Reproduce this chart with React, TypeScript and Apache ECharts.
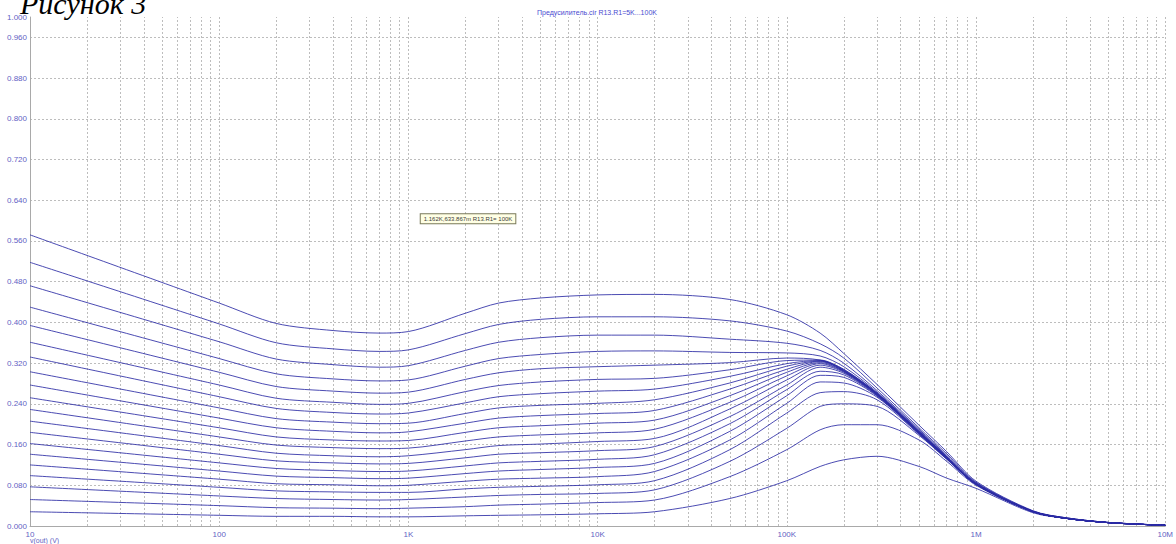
import React, { useEffect, useRef } from "react";
import * as echarts from "echarts";

// Frequencies (Hz) at which every curve is read
const freqs = [10, 100, 200, 400, 700, 1000, 2000, 3000, 5000, 10000, 20000, 50000, 100000, 150000, 200000, 300000, 500000, 700000, 1000000, 2000000, 3000000, 5000000, 10000000];

// v(out) in volts, top curve first
const s01 = [0.572, 0.438, 0.398, 0.384, 0.379, 0.382, 0.418, 0.438, 0.448, 0.454, 0.455, 0.445, 0.415, 0.379, 0.339, 0.278, 0.198, 0.146, 0.088, 0.030, 0.016, 0.007, 0.0015];
const s02 = [0.518, 0.397, 0.360, 0.348, 0.343, 0.346, 0.378, 0.396, 0.406, 0.411, 0.411, 0.403, 0.383, 0.358, 0.330, 0.271, 0.193, 0.142, 0.086, 0.029, 0.016, 0.007, 0.0015];
const s03 = [0.472, 0.362, 0.328, 0.317, 0.312, 0.315, 0.345, 0.361, 0.370, 0.375, 0.375, 0.367, 0.359, 0.345, 0.320, 0.266, 0.190, 0.139, 0.085, 0.029, 0.016, 0.007, 0.0014];
const s04 = [0.430, 0.329, 0.299, 0.289, 0.285, 0.287, 0.314, 0.329, 0.337, 0.343, 0.344, 0.341, 0.340, 0.334, 0.313, 0.263, 0.188, 0.137, 0.084, 0.029, 0.015, 0.007, 0.0014];
const s05 = [0.394, 0.302, 0.274, 0.265, 0.261, 0.263, 0.288, 0.301, 0.309, 0.313, 0.316, 0.321, 0.330, 0.326, 0.308, 0.261, 0.186, 0.136, 0.083, 0.028, 0.015, 0.0066, 0.0013];
const s06 = [0.361, 0.277, 0.251, 0.243, 0.239, 0.241, 0.264, 0.276, 0.283, 0.288, 0.290, 0.307, 0.325, 0.326, 0.307, 0.261, 0.186, 0.136, 0.083, 0.028, 0.015, 0.0066, 0.0013];
const s07 = [0.332, 0.254, 0.231, 0.223, 0.220, 0.222, 0.242, 0.254, 0.260, 0.265, 0.269, 0.294, 0.319, 0.325, 0.306, 0.260, 0.185, 0.135, 0.083, 0.028, 0.015, 0.0066, 0.0013];
const s08 = [0.303, 0.232, 0.211, 0.204, 0.201, 0.202, 0.221, 0.232, 0.237, 0.241, 0.248, 0.281, 0.314, 0.324, 0.305, 0.260, 0.185, 0.135, 0.083, 0.028, 0.015, 0.0066, 0.0013];
const s09 = [0.277, 0.212, 0.193, 0.186, 0.183, 0.185, 0.202, 0.212, 0.217, 0.221, 0.227, 0.269, 0.308, 0.323, 0.305, 0.259, 0.184, 0.135, 0.082, 0.028, 0.015, 0.0066, 0.0013];
const s10 = [0.252, 0.193, 0.175, 0.169, 0.167, 0.168, 0.184, 0.193, 0.197, 0.202, 0.208, 0.256, 0.302, 0.321, 0.304, 0.259, 0.184, 0.134, 0.082, 0.028, 0.015, 0.0066, 0.0013];
const s11 = [0.229, 0.175, 0.159, 0.154, 0.152, 0.153, 0.167, 0.175, 0.179, 0.183, 0.190, 0.243, 0.295, 0.319, 0.303, 0.258, 0.184, 0.134, 0.082, 0.028, 0.015, 0.0066, 0.0013];
const s12 = [0.206, 0.158, 0.143, 0.138, 0.136, 0.138, 0.150, 0.158, 0.161, 0.166, 0.172, 0.230, 0.287, 0.316, 0.302, 0.258, 0.183, 0.134, 0.082, 0.028, 0.015, 0.0066, 0.0013];
const s13 = [0.184, 0.141, 0.128, 0.124, 0.122, 0.123, 0.134, 0.141, 0.144, 0.148, 0.156, 0.215, 0.277, 0.312, 0.300, 0.257, 0.183, 0.133, 0.082, 0.028, 0.015, 0.0066, 0.0013];
const s14 = [0.162, 0.124, 0.113, 0.109, 0.107, 0.108, 0.118, 0.124, 0.127, 0.131, 0.140, 0.201, 0.268, 0.304, 0.297, 0.256, 0.182, 0.133, 0.082, 0.028, 0.015, 0.0066, 0.0013];
const s15 = [0.141, 0.108, 0.098, 0.095, 0.093, 0.094, 0.103, 0.108, 0.111, 0.115, 0.123, 0.186, 0.256, 0.296, 0.292, 0.255, 0.182, 0.133, 0.082, 0.028, 0.015, 0.0066, 0.0013];
const s16 = [0.120, 0.092, 0.083, 0.081, 0.079, 0.080, 0.088, 0.092, 0.094, 0.097, 0.107, 0.169, 0.241, 0.283, 0.281, 0.253, 0.181, 0.132, 0.082, 0.028, 0.015, 0.0066, 0.0013];
const s17 = [0.099, 0.076, 0.069, 0.067, 0.066, 0.066, 0.073, 0.076, 0.078, 0.081, 0.089, 0.150, 0.222, 0.262, 0.264, 0.248, 0.180, 0.132, 0.082, 0.028, 0.015, 0.0066, 0.0013];
const s18 = [0.077, 0.059, 0.054, 0.052, 0.051, 0.052, 0.057, 0.060, 0.062, 0.064, 0.071, 0.127, 0.192, 0.235, 0.240, 0.235, 0.178, 0.131, 0.082, 0.028, 0.015, 0.0066, 0.0013];
const s19 = [0.052, 0.040, 0.036, 0.035, 0.034, 0.035, 0.038, 0.041, 0.043, 0.046, 0.051, 0.097, 0.150, 0.189, 0.199, 0.199, 0.169, 0.127, 0.080, 0.028, 0.015, 0.0066, 0.0013];
const s20 = [0.028, 0.021, 0.019, 0.019, 0.018, 0.018, 0.020, 0.021, 0.022, 0.024, 0.028, 0.054, 0.089, 0.117, 0.130, 0.137, 0.117, 0.094, 0.074, 0.026, 0.015, 0.0065, 0.0013];

const curves = [s01, s02, s03, s04, s05, s06, s07, s08, s09, s10, s11, s12, s13, s14, s15, s16, s17, s18, s19, s20];
const seriesNames = ["100K", "95K", "90K", "85K", "80K", "75K", "70K", "65K", "60K", "55K", "50K", "45K", "40K", "35K", "30K", "25K", "20K", "15K", "10K", "5K"];

// Axis ticks
const xTickValues = [10, 100, 1000, 10000, 100000, 1000000, 10000000];
const xTickLabels = ["10", "100", "1K", "10K", "100K", "1M", "10M"];
const minorMultipliers = [2, 3, 4, 5, 6, 7, 8, 9];

const chartTitle = "Предусилитель.cir R13.R1=5K...100K";
const cursorText = "1.162K,633.867m R13.R1= 100K";
const cursorPoint = [1162, 0.633867];
const yAxisName = "v(out) (V)";
const figureCaption = "Рисунок 3";

export default function App() {
  const ref = useRef<HTMLDivElement>(null);

  useEffect(() => {
    const chart = echarts.init(ref.current as HTMLDivElement, null, { renderer: "svg" });

    const minorFreqs: number[] = [];
    xTickValues.slice(0, -1).forEach((d) => minorMultipliers.forEach((m) => minorFreqs.push(d * m)));

    const gridColor = "#bdbdbd";
    const labelColor = "#5f5fc4";
    const lineColor = "#2c2ca4";

    const series: any[] = curves.map((vals, i) => ({
      name: "R13.R1=" + seriesNames[i],
      type: "line",
      data: freqs.map((f, j) => [f, vals[j]]),
      showSymbol: false,
      smooth: 0.3,
      silent: true,
      z: 3,
      lineStyle: { width: 1, color: lineColor, opacity: 0.85 },
      markLine:
        i === 0
          ? {
              silent: true,
              symbol: "none",
              label: { show: false },
              lineStyle: { color: gridColor, type: [2, 2], width: 1 },
              data: minorFreqs.map((f) => ({ xAxis: f })),
              z: 1,
            }
          : undefined,
    }));

    chart.setOption({
      animation: false,
      backgroundColor: "#ffffff",
      grid: { left: 30, right: 6, top: 17, bottom: 18 },
      xAxis: {
        type: "log",
        logBase: 10,
        min: 10,
        max: 10000000,
        axisLine: { show: true, lineStyle: { color: "#a9a9a9", width: 1 } },
        axisTick: { show: false },
        splitLine: { show: true, lineStyle: { color: gridColor, type: [2, 2], width: 1 } },
        axisLabel: {
          color: labelColor,
          fontSize: 8,
          fontFamily: "Liberation Sans",
          margin: 4,
          formatter: (v: number) => {
            const k = xTickValues.findIndex((t) => Math.abs(v - t) / t < 1e-6);
            return k >= 0 ? xTickLabels[k] : "";
          },
        },
      },
      yAxis: {
        type: "value",
        min: 0,
        max: 1,
        interval: 0.08,
        axisLine: { show: true, lineStyle: { color: "#a9a9a9", width: 1 } },
        axisTick: { show: false },
        splitLine: { show: true, showMaxLine: false, lineStyle: { color: gridColor, type: [2, 2], width: 1 } },
        axisLabel: {
          color: labelColor,
          fontSize: 8,
          fontFamily: "Liberation Sans",
          margin: 3,
          formatter: (v: number) => v.toFixed(3),
        },
      },
      series,
    });

    const [cx, cy] = chart.convertToPixel({ gridIndex: 0 }, cursorPoint) as number[];

    chart.setOption({
      graphic: [
        {
          type: "text",
          x: 20,
          y: 3,
          z: 10,
          style: {
            text: figureCaption,
            font: 'italic 30px "Liberation Serif"',
            fill: "#000000",
            verticalAlign: "middle",
          },
        },
        {
          type: "text",
          x: 597,
          y: 12,
          z: 10,
          style: {
            text: chartTitle,
            font: '7px "Liberation Sans"',
            fill: "#4a4ad0",
            align: "center",
            verticalAlign: "middle",
          },
        },
        {
          type: "text",
          x: cx,
          y: cy + 11,
          z: 10,
          style: {
            text: cursorText,
            font: '6px "Liberation Sans"',
            fill: "#3a3a3a",
            backgroundColor: "#ffffe4",
            borderColor: "#7a7a5a",
            borderWidth: 1,
            padding: [2, 3, 1, 3],
          },
        },
        {
          type: "text",
          x: 30,
          y: 540,
          z: 10,
          style: {
            text: yAxisName,
            font: '7px "Liberation Sans"',
            fill: labelColor,
            verticalAlign: "middle",
          },
        },
      ],
    });

    return () => chart.dispose();
  }, []);

  return (
    <div
      ref={ref}
      style={{ position: "absolute", left: 0, top: 0, width: 1176, height: 544, background: "#ffffff" }}
    />
  );
}
